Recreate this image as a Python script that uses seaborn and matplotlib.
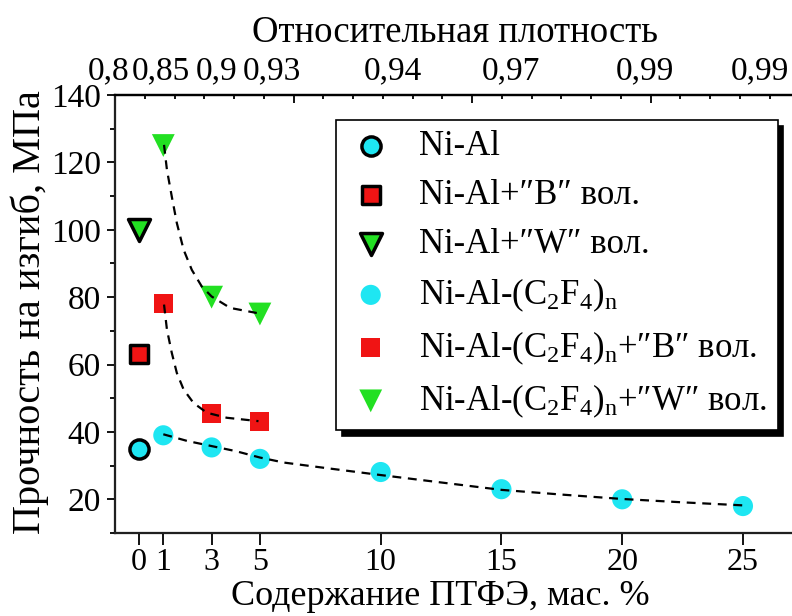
import matplotlib
matplotlib.use("Agg")
import matplotlib.pyplot as plt
import seaborn as sns
from matplotlib.ticker import FixedLocator, MultipleLocator, NullFormatter

sns.set_theme(style="ticks")
plt.rcParams['font.family'] = ['Liberation Serif', 'DejaVu Serif']
plt.rcParams['mathtext.fontset'] = 'custom'
plt.rcParams['mathtext.rm'] = 'Liberation Serif'
plt.rcParams['mathtext.it'] = 'Liberation Serif:italic'
plt.rcParams['text.color'] = 'black'
plt.rcParams['axes.labelcolor'] = 'black'

# ---- data ----
ptfe_ticks = [0, 1, 3, 5, 10, 15, 20, 25]
density_labels = ["0,8", "0,85", "0,9", "0,93", "0,94", "0,97", "0,99", "0,99"]
density_label_pos = [-1.25, 0.9, 3.2, 5.5, 10.5, 15.4, 20.95, 25.7]

x_base = [0]
nial = [35]
nial_b = [63]
nial_w = [100]

x_ptfe = [1, 3, 5, 10, 15, 20, 25]
ptfe = [39, 35.4, 32, 28.1, 23, 20, 18]
x_ptfe_bw = [1, 3, 5]
ptfe_b = [78, 45.5, 43]
ptfe_w = [125, 80, 75]

fit_ptfe_x = [1, 2, 3, 4, 5, 6, 7.6, 10, 12.5, 15, 17.5, 20, 22.5, 25]
fit_ptfe_y = [39.3, 37.3, 35.8, 34.3, 32.4, 30.9, 29.4, 27.2, 25.0, 22.8, 21.4, 20.1, 19.1, 18.2]
fit_b_x = [1.03, 1.15, 1.35, 1.56, 1.84, 2.25, 2.8, 3.63, 4.94]
fit_b_y = [77.8, 70.4, 63.5, 57.5, 52.6, 48.6, 45.7, 44.2, 43.2]
fit_w_x = [1.03, 1.15, 1.35, 1.56, 1.84, 2.18, 2.59, 3.0, 3.77, 4.87]
fit_w_y = [125.2, 117.8, 109.9, 102.0, 94.1, 88.1, 83.2, 80.2, 76.8, 75.3]

labels = ["Ni-Al",
          "Ni-Al+\u2033B\u2033 вол.",
          "Ni-Al+\u2033W\u2033 вол.",
          "Ni-Al-(C$_{2}$F$_{4}$)$_{\\mathrm{n}}$",
          "Ni-Al-(C$_{2}$F$_{4}$)$_{\\mathrm{n}}$+\u2033B\u2033 вол.",
          "Ni-Al-(C$_{2}$F$_{4}$)$_{\\mathrm{n}}$+\u2033W\u2033 вол."]

cyan = '#1EE6F2'
red = '#F01414'
green = '#22E022'

fig = plt.figure(figsize=(7.92, 6.16), dpi=100)
ax = fig.add_axes([115/792, 83/616, 677/792, 438/616])

dash = (0, (4, 3))
sns.lineplot(x=fit_ptfe_x, y=fit_ptfe_y, ax=ax, color='black', lw=1.6, linestyle=dash, sort=False, zorder=2)
sns.lineplot(x=fit_b_x, y=fit_b_y, ax=ax, color='black', lw=1.6, linestyle=dash, sort=False, zorder=2)
sns.lineplot(x=fit_w_x, y=fit_w_y, ax=ax, color='black', lw=1.6, linestyle=dash, sort=False, zorder=2)

sns.scatterplot(x=x_base, y=nial, ax=ax, marker='o', s=190, color=cyan, edgecolor='black', linewidth=2.5, label=labels[0], zorder=3)
sns.scatterplot(x=x_base, y=nial_b, ax=ax, marker='s', s=170, color=red, edgecolor='black', linewidth=2.5, label=labels[1], zorder=3)
sns.scatterplot(x=x_base, y=nial_w, ax=ax, marker='v', s=250, color=green, edgecolor='black', linewidth=2.5, label=labels[2], zorder=3)
sns.scatterplot(x=x_ptfe, y=ptfe, ax=ax, marker='o', s=210, color=cyan, edgecolor='none', linewidth=0, label=labels[3], zorder=1)
sns.scatterplot(x=x_ptfe_bw, y=ptfe_b, ax=ax, marker='s', s=190, color=red, edgecolor='none', linewidth=0, label=labels[4], zorder=1)
sns.scatterplot(x=x_ptfe_bw, y=ptfe_w, ax=ax, marker='v', s=270, color=green, edgecolor='none', linewidth=0, label=labels[5], zorder=1)

ax.set_xlim(-1, 27.03)
ax.set_ylim(10, 140)
ax.xaxis.set_major_locator(FixedLocator(ptfe_ticks))
ax.set_xticklabels([str(t) for t in ptfe_ticks])
ax.yaxis.set_major_locator(MultipleLocator(20))
ax.yaxis.set_minor_locator(MultipleLocator(10))
ax.tick_params(axis='x', which='major', direction='out', length=8.5, width=1.3, pad=2, labelsize=23, colors='black')
ax.tick_params(axis='y', which='major', direction='out', length=6, width=1.3, pad=4, labelsize=24, colors='black')
ax.tick_params(axis='y', which='minor', direction='out', length=3.5, width=1.3, colors='black')
for s in ['left', 'bottom', 'top']:
    ax.spines[s].set_linewidth(1.6)
    ax.spines[s].set_color('black')
ax.spines['right'].set_visible(False)

ax.set_xlabel("Содержание ПТФЭ, мас. %", fontsize=26, color='black')
ax.xaxis.set_label_coords((440-115)/677, -0.108)
ax.set_ylabel("Прочность на изгиб, МПа", fontsize=29, color='black')
ax.yaxis.set_label_coords(-0.098, 0.505)

# top axis
top = ax.twiny()
top.set_xlim(0, 677/178.5)
top.xaxis.set_major_locator(MultipleLocator(1))
top.xaxis.set_minor_locator(MultipleLocator(1/6))
top.xaxis.set_major_formatter(NullFormatter())
top.tick_params(axis='x', which='major', direction='in', length=6, width=1.3, colors='black')
top.tick_params(axis='x', which='minor', direction='in', length=3, width=1.3, colors='black')
top.spines['right'].set_visible(False)
top.spines['top'].set_linewidth(1.6)
top.spines['top'].set_color('black')
for xp, lab in zip(density_label_pos, density_labels):
    ax.annotate(lab, xy=(xp, 1.0), xycoords=('data', 'axes fraction'),
                xytext=(0, 11), textcoords='offset points', ha='center', va='baseline',
                fontsize=24, color='black', annotation_clip=False)
fig.text(455/792, 1 - 42/616, "Относительная плотность", ha='center', va='baseline', fontsize=26.5, color='black')

h, l = ax.get_legend_handles_labels()
leg = ax.legend(h, l, loc='upper left', bbox_to_anchor=(336/792, 1 - 120/616),
                bbox_transform=fig.transFigure, fontsize=25, frameon=True, fancybox=False,
                edgecolor='black', framealpha=1, borderpad=0.3, borderaxespad=0,
                handlelength=1.4, handletextpad=0.7, labelspacing=0.45, labelcolor='black',
                shadow={'ox': 4, 'oy': -4, 'color': 'black', 'alpha': 1})
leg.get_frame().set_linewidth(1.2)
leg.set_zorder(10)

fig.savefig("out.png", dpi=100)
